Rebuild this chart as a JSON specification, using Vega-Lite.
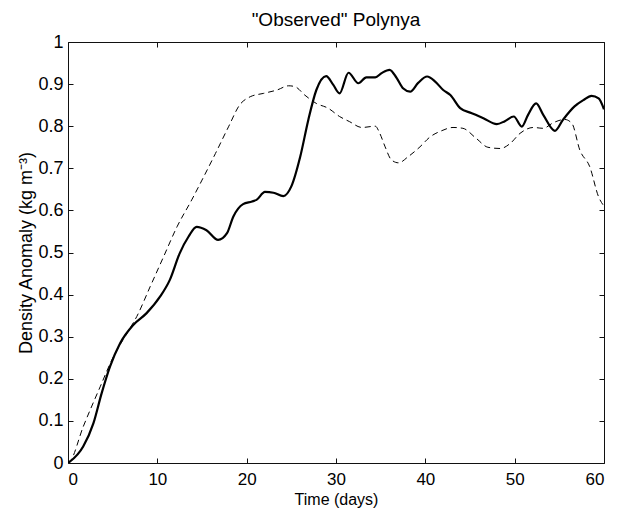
{
  "$schema": "https://vega.github.io/schema/vega-lite/v6.json",
  "width": 536,
  "height": 421,
  "autosize": "none",
  "padding": {"left": 68, "top": 42, "right": 17, "bottom": 47},
  "background": "white",
  "config": {
    "font": "Liberation Sans",
    "view": {"stroke": "#111", "strokeWidth": 1},
    "axis": {"grid": false, "domain": false, "tickColor": "#111", "labelColor": "black", "titleColor": "black", "labelFontSize": 18, "titleFontSize": 18, "titleFontWeight": "normal", "tickSize": -5}
  },
  "title": {"text": "\"Observed\" Polynya", "fontSize": 19, "fontWeight": "normal", "offset": 3, "color": "black"},
  "datasets": {
    "solid": [
      {"t": 0, "v": 0.0},
      {"t": 0.2, "v": 0.003},
      {"t": 1.7, "v": 0.039},
      {"t": 2.84, "v": 0.094},
      {"t": 3.77, "v": 0.166},
      {"t": 4.7, "v": 0.229},
      {"t": 5.82, "v": 0.284},
      {"t": 7.3, "v": 0.328},
      {"t": 8.8, "v": 0.356},
      {"t": 10.3, "v": 0.395},
      {"t": 11.4, "v": 0.435},
      {"t": 12.5, "v": 0.498},
      {"t": 13.5, "v": 0.538},
      {"t": 14.4, "v": 0.561},
      {"t": 15.5, "v": 0.553},
      {"t": 16.8, "v": 0.53},
      {"t": 17.8, "v": 0.546},
      {"t": 18.5, "v": 0.585},
      {"t": 19.6, "v": 0.615},
      {"t": 20.6, "v": 0.621},
      {"t": 21.1, "v": 0.625},
      {"t": 22.05, "v": 0.644},
      {"t": 23.0, "v": 0.642},
      {"t": 24.1, "v": 0.634},
      {"t": 25.0, "v": 0.657},
      {"t": 26.0, "v": 0.728},
      {"t": 26.9, "v": 0.815},
      {"t": 27.8, "v": 0.886},
      {"t": 28.9, "v": 0.919},
      {"t": 29.7, "v": 0.898},
      {"t": 30.4, "v": 0.878},
      {"t": 31.4, "v": 0.927},
      {"t": 32.5, "v": 0.902},
      {"t": 33.4, "v": 0.916},
      {"t": 34.4, "v": 0.916},
      {"t": 35.1, "v": 0.926},
      {"t": 36.0, "v": 0.934},
      {"t": 36.8, "v": 0.914},
      {"t": 37.5, "v": 0.89},
      {"t": 38.3, "v": 0.882},
      {"t": 39.2, "v": 0.903},
      {"t": 40.2, "v": 0.918},
      {"t": 41.1, "v": 0.906},
      {"t": 42.0, "v": 0.886},
      {"t": 42.8, "v": 0.874},
      {"t": 43.9, "v": 0.843},
      {"t": 45.2, "v": 0.831},
      {"t": 46.5, "v": 0.819},
      {"t": 48.0, "v": 0.805},
      {"t": 48.9, "v": 0.812},
      {"t": 49.9, "v": 0.823},
      {"t": 50.8, "v": 0.799},
      {"t": 51.5, "v": 0.827},
      {"t": 52.4, "v": 0.854},
      {"t": 53.2, "v": 0.827},
      {"t": 54.5, "v": 0.789},
      {"t": 55.4, "v": 0.815},
      {"t": 56.7, "v": 0.847},
      {"t": 57.7, "v": 0.862},
      {"t": 58.6, "v": 0.872},
      {"t": 59.4, "v": 0.866},
      {"t": 60.0, "v": 0.84}
    ],
    "dashed": [
      {"t": 0, "v": 0.0},
      {"t": 0.2, "v": 0.003},
      {"t": 1.7, "v": 0.086},
      {"t": 3.6, "v": 0.181},
      {"t": 5.07, "v": 0.252},
      {"t": 6.6, "v": 0.308},
      {"t": 7.7, "v": 0.348},
      {"t": 9.2, "v": 0.419},
      {"t": 10.7, "v": 0.49},
      {"t": 12.2, "v": 0.561},
      {"t": 13.85, "v": 0.625},
      {"t": 15.0, "v": 0.672},
      {"t": 16.5, "v": 0.735},
      {"t": 18.0, "v": 0.8},
      {"t": 19.2, "v": 0.85},
      {"t": 20.4, "v": 0.87},
      {"t": 21.9, "v": 0.878},
      {"t": 23.4, "v": 0.886},
      {"t": 24.7, "v": 0.896},
      {"t": 25.4, "v": 0.894},
      {"t": 26.5, "v": 0.874},
      {"t": 27.8, "v": 0.854},
      {"t": 29.1, "v": 0.843},
      {"t": 30.4, "v": 0.823},
      {"t": 31.5, "v": 0.811},
      {"t": 32.9, "v": 0.797},
      {"t": 34.4, "v": 0.8},
      {"t": 34.9, "v": 0.783},
      {"t": 35.5, "v": 0.751},
      {"t": 36.2, "v": 0.72},
      {"t": 37.0, "v": 0.713},
      {"t": 38.1, "v": 0.728},
      {"t": 39.4, "v": 0.751},
      {"t": 40.5, "v": 0.774},
      {"t": 41.8, "v": 0.789},
      {"t": 43.1, "v": 0.797},
      {"t": 44.2, "v": 0.795},
      {"t": 45.7, "v": 0.771},
      {"t": 47.0, "v": 0.75},
      {"t": 48.4, "v": 0.747},
      {"t": 49.5, "v": 0.759},
      {"t": 50.6, "v": 0.783},
      {"t": 52.1, "v": 0.797},
      {"t": 53.2, "v": 0.795},
      {"t": 54.3, "v": 0.808},
      {"t": 55.6, "v": 0.816},
      {"t": 56.4, "v": 0.807},
      {"t": 57.3, "v": 0.743},
      {"t": 58.4, "v": 0.704},
      {"t": 59.4, "v": 0.632},
      {"t": 60.0, "v": 0.61}
    ]
  },
  "layer": [
    {
      "data": {"name": "dashed"},
      "mark": {"type": "line", "color": "black", "strokeWidth": 1, "strokeDash": [6, 4], "interpolate": "monotone", "clip": true},
      "encoding": {
        "x": {"field": "t", "type": "quantitative", "scale": {"domain": [0, 60], "nice": false, "zero": false},
          "axis": {"orient": "top", "labels": false, "title": null, "values": [0, 10, 20, 30, 40, 50, 60]}},
        "y": {"field": "v", "type": "quantitative", "scale": {"domain": [0, 1], "nice": false},
          "axis": {"orient": "right", "labels": false, "title": null, "values": [0, 0.1, 0.2, 0.3, 0.4, 0.5, 0.6, 0.7, 0.8, 0.9, 1]}}
      }
    },
    {
      "data": {"name": "solid"},
      "mark": {"type": "line", "color": "black", "strokeWidth": 2.2, "interpolate": "monotone", "clip": true},
      "encoding": {
        "x": {"field": "t", "type": "quantitative", "scale": {"domain": [0, 60], "nice": false, "zero": false},
          "axis": {"orient": "bottom", "title": "Time (days)", "format": "d", "values": [0, 10, 20, 30, 40, 50, 60], "labelPadding": 13, "labelFontSize": 17, "titleFontSize": 16, "titlePadding": 4}},
        "y": {"field": "v", "type": "quantitative", "scale": {"domain": [0, 1], "nice": false},
          "axis": {"orient": "left", "title": "Density Anomaly (kg m⁻³)", "format": "~g", "values": [0, 0.1, 0.2, 0.3, 0.4, 0.5, 0.6, 0.7, 0.8, 0.9, 1], "labelPadding": 10, "titlePadding": 2}}
      }
    }
  ],
  "resolve": {"axis": {"x": "independent", "y": "independent"}}
}
